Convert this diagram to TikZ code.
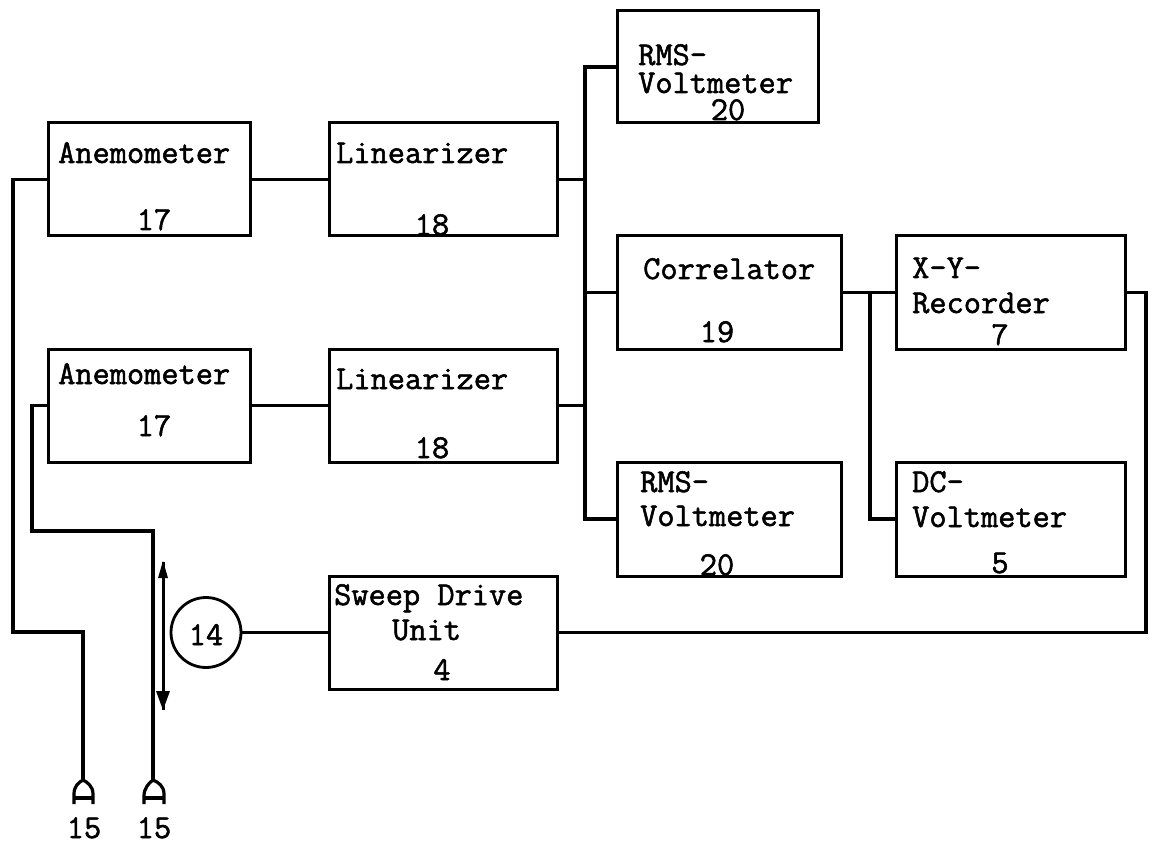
\documentclass[tikz,border=0pt]{standalone}
\usepackage{fontspec}
\newfontfamily\typer[FakeBold=1.6]{Latin Modern Mono}
\begin{document}
\begin{tikzpicture}[x=1pt,y=-1pt,
  unitbox/.style={draw,line width=3pt,inner sep=0pt,outer sep=0pt,anchor=north west},
  wire/.style={line width=3.4pt,line join=miter},
  lab/.style={anchor=base west,inner sep=0pt,font=\typer\fontsize{33.4}{36}\selectfont},
  numlab/.style={anchor=base,inner sep=0pt,font=\typer\fontsize{33.4}{36}\selectfont},
  sensor/.style={line width=3.2pt,line join=round}]
\useasboundingbox (0,0) rectangle (1152,845);
% boxes
\node[unitbox,minimum width=201pt,minimum height=112pt] (rms1) at (617,11) {};
\node[unitbox,minimum width=202pt,minimum height=113pt] (an1) at (48,123) {};
\node[unitbox,minimum width=228pt,minimum height=113pt] (li1) at (329,123) {};
\node[unitbox,minimum width=202pt,minimum height=113pt] (an2) at (48,349) {};
\node[unitbox,minimum width=228pt,minimum height=113pt] (li2) at (329,349) {};
\node[unitbox,minimum width=224pt,minimum height=113pt] (cor) at (617,236) {};
\node[unitbox,minimum width=229pt,minimum height=113pt] (xy) at (896,236) {};
\node[unitbox,minimum width=224pt,minimum height=114pt] (rms2) at (617,462) {};
\node[unitbox,minimum width=229pt,minimum height=114pt] (dc) at (896,462) {};
\node[unitbox,minimum width=228pt,minimum height=113pt] (sw) at (329,576) {};
\node[draw,circle,line width=2.8pt,minimum size=70pt,inner sep=0pt,outer sep=0pt] (m) at (206,632.5) {};
% texts
\node[lab] (t1) at (638,65) {RMS-};
\node[lab] (t2) at (638,93) {Voltmeter};
\node[numlab] (t3) at (728,120) {20};
\node[lab] (t4) at (58,163) {Anemometer};
\node[numlab] (t5) at (154,230) {17};
\node[lab] (t6) at (336,163) {Linearizer};
\node[numlab] (t7) at (432,235) {18};
\node[lab] (t8) at (58,384) {Anemometer};
\node[numlab] (t9) at (154,436) {17};
\node[lab] (t10) at (336,389) {Linearizer};
\node[numlab] (t11) at (432,458) {18};
\node[lab] (t12) at (643,279) {Correlator};
\node[numlab] (t13) at (717,342) {19};
\node[lab] (t14) at (912,278) {X-Y-};
\node[lab] (t15) at (912,313) {Recorder};
\node[numlab] (t16) at (1000,345) {7};
\node[lab] (t17) at (640,492) {RMS-};
\node[lab] (t18) at (640,526) {Voltmeter};
\node[numlab] (t19) at (717,575) {20};
\node[lab] (t20) at (912,492) {DC-};
\node[lab] (t21) at (912,527) {Voltmeter};
\node[numlab] (t22) at (1000,573) {5};
\node[lab] (t23) at (334,605) {Sweep Drive};
\node[lab] (t24) at (392,640) {Unit};
\node[numlab] (t25) at (442,680) {4};
\node[numlab] (t26) at (206,645) {14};
\node[numlab] (t27) at (84,838) {15};
\node[numlab] (t28) at (154,838) {15};
% junction and free-end points
\coordinate (busT) at (585,0);
\coordinate (j2) at (870,292.5);
\coordinate (s1) at (83,780);
\coordinate (s2) at (153,780);
\coordinate (c1) at (13,632);
\coordinate (c2) at (32,531);
\coordinate (c3) at (1146,0);
\coordinate (ar1) at (163,562);
\coordinate (ar2) at (163,710);
% connectors
\draw[wire] (an1.west) -| (c1) -| (s1);
\draw[wire] (an2.west) -| (c2) -| (s2);
\draw[wire] (an1.east) -- (li1.west);
\draw[wire] (an2.east) -- (li2.west);
\draw[wire] (rms1.west) -| (rms2.west -| busT) -- (rms2.west);
\draw[wire] (li1.east) -- (li1.east -| busT);
\draw[wire] (li2.east) -- (li2.east -| busT);
\draw[wire] (cor.west -| busT) -- (cor.west);
\draw[wire] (cor.east) -- (xy.west);
\draw[wire] (j2) |- (dc.west);
\draw[wire] (xy.east) -| (sw.east -| c3) -- (sw.east);
\draw[wire] (m.east) -- (sw.west);
\draw[line width=3pt] (ar1) -- (ar2);
\fill (ar1) ++(0,-1) -- ++(-5,17) -- ++(10,0) -- cycle;
\fill (ar2) -- ++(-7,-19) -- ++(14,0) -- cycle;
% probes
\draw[sensor] (74,804) -- (74,794) .. controls (74,786) and (79,782) .. (s1) .. controls (87,782) and (93,786) .. (93,794) -- (93,804);
\draw[sensor] (74,798) -- (93,798);
\draw[sensor] (144,804) -- (144,796) .. controls (144,788) and (149,783) .. (s2) .. controls (158,782) and (164,786) .. (164,794) -- (164,804);
\draw[sensor] (144,798) -- (164,798);
\end{tikzpicture}
\end{document}
